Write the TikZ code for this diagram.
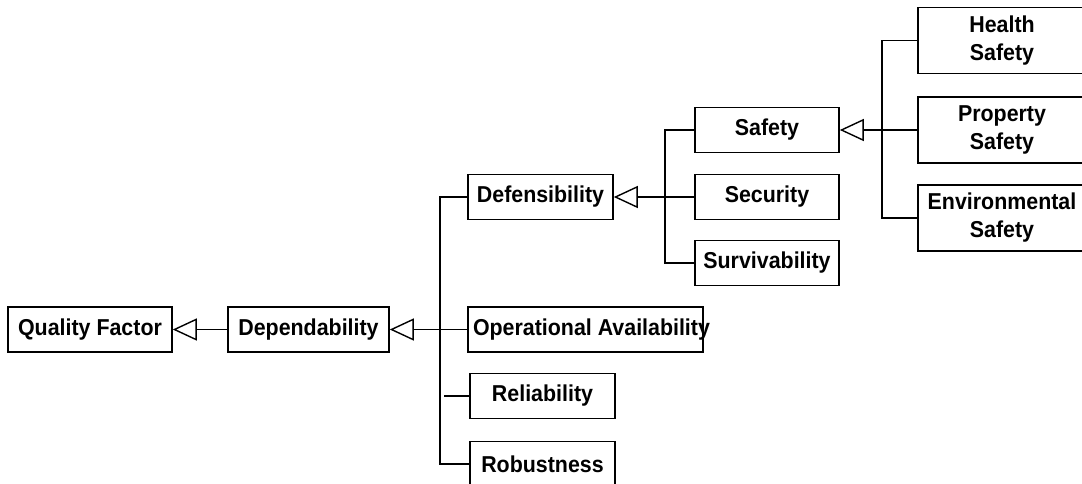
\documentclass[tikz,border=0pt]{standalone}
\usepackage{fontspec}
\usetikzlibrary{arrows.meta,calc}
\newfontfamily\lblfont{Liberation Sans Bold}[FakeStretch=0.93]

\tikzset{
  factor/.style={draw, line width=1.6pt, inner sep=0pt, align=center,
    minimum height=45pt,
    font=\lblfont\fontsize{23}{28}\selectfont},
  tallfactor/.style={factor, minimum height=66pt, minimum width=168pt},
  link/.style={line width=1.6pt},
  inherits/.style={link, -{Triangle[open, length=24pt, width=22pt, line width=1.4pt]}},
}

\begin{document}
\begin{tikzpicture}[x=1pt, y=-1pt]
  \useasboundingbox (0,0) rectangle (1082,483);

  % top levels
  \node[factor, minimum width=164pt] (qf)  at (90,329.5)   {Quality Factor};
  \node[factor, minimum width=161pt] (dep) at (308.5,329.5) {Dependability};

  % dependability sub-factors
  \node[factor, minimum width=145pt] (def) at (540.5,197)  {Defensibility};
  \node[factor, minimum width=235pt] (oa)  at (585.5,329.5)
       {\makebox[225pt][l]{Operational Availability}};
  \node[factor, minimum width=145pt] (rel) at (542.5,396)  {Reliability};
  \node[factor, minimum width=145pt] (rob) at (542.5,464)  {Robustness};

  % defensibility sub-factors
  \node[factor, minimum width=144pt] (saf) at (767,130)    {Safety};
  \node[factor, minimum width=144pt] (sec) at (767,197)    {Security};
  \node[factor, minimum width=144pt] (sur) at (767,263)    {Survivability};

  % safety sub-factors
  \node[tallfactor] (hs) at (1002,40.5) {Health\\Safety};
  \node[tallfactor] (ps) at (1002,130)  {Property\\Safety};
  \node[tallfactor] (es) at (1002,218)  {Environmental\\Safety};

  % generalisation links
  \draw[inherits] (dep.west) -- (qf.east);

  \draw[inherits] (oa.west) -- (dep.east);
  \draw[link] (def.west) -- ++(-27,0) |- (rob.west);
  \draw[link] ($(rel.west)+(-25,0)$) -- (rel.west);

  \draw[inherits] (sec.west) -- (def.east);
  \draw[link] (saf.west) -- ++(-29,0) |- (sur.west);

  \draw[inherits] (ps.west) -- (saf.east);
  \draw[link] (hs.west) -- ++(-35,0) |- (es.west);
\end{tikzpicture}
\end{document}
